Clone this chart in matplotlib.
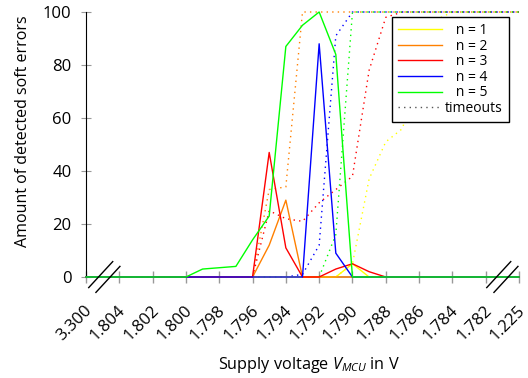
import matplotlib
matplotlib.use('Agg')
import matplotlib.pyplot as plt
from matplotlib.lines import Line2D
import matplotlib.transforms as mtransforms

plt.rcParams['font.family'] = ['Open Sans', 'DejaVu Sans']
plt.rcParams['mathtext.fontset'] = 'custom'
plt.rcParams['mathtext.it'] = 'Open Sans:italic'
plt.rcParams['mathtext.rm'] = 'Open Sans'

# ---------------- data ----------------
voltages = [3.300, 1.804, 1.803, 1.802, 1.801, 1.800, 1.799, 1.798, 1.797,
            1.796, 1.795, 1.794, 1.793, 1.792, 1.791, 1.790, 1.789, 1.788,
            1.787, 1.786, 1.785, 1.784, 1.783, 1.782, 1.225]

tick_voltages = [3.300, 1.804, 1.802, 1.800, 1.798, 1.796, 1.794, 1.792,
                 1.790, 1.788, 1.786, 1.784, 1.782, 1.225]
tick_labels = ["3.300", "1.804", "1.802", "1.800", "1.798", "1.796", "1.794",
               "1.792", "1.790", "1.788", "1.786", "1.784", "1.782", "1.225"]

#            3.3 804 803 802 801 800 799 798 797 796 795 794 793 792 791 790 789 788 787 786 785 784 783 782 1.225
errors_n1 = [0, 0, 0, 0, 0, 0, 0, 0, 0, 0, 0, 0, 0, 0, 0, 5, 0, 0, 0, 0, 0, 0, 0, 0, 0]
errors_n2 = [0, 0, 0, 0, 0, 0, 0, 0, 0, 0, 12, 29, 0, 0, 0, 0, 0, 0, 0, 0, 0, 0, 0, 0, 0]
errors_n3 = [0, 0, 0, 0, 0, 0, 0, 0, 0, 0, 47, 11, 0, 0, 3, 5, 2, 0, 0, 0, 0, 0, 0, 0, 0]
errors_n4 = [0, 0, 0, 0, 0, 0, 0, 0, 0, 0, 0, 0, 0, 88, 9, 0, 0, 0, 0, 0, 0, 0, 0, 0, 0]
errors_n5 = [0, 0, 0, 0, 0, 0, 3, 3.5, 4, 14, 23, 87, 95, 100, 84, 0, 0, 0, 0, 0, 0, 0, 0, 0, 0]

timeouts_n1 = [0, 0, 0, 0, 0, 0, 0, 0, 0, 0, 0, 0, 0, 0, 0, 5, 37, 51, 56, 78, 97, 100, 100, 100, 100]
timeouts_n2 = [0, 0, 0, 0, 0, 0, 0, 0, 0, 0, 33, 34, 100, 100, 100, 100, 100, 100, 100, 100, 100, 100, 100, 100, 100]
timeouts_n3 = [0, 0, 0, 0, 0, 0, 0, 0, 0, 0, 25, 22, 21, 28, 33, 38, 78, 98, 100, 100, 100, 100, 100, 100, 100]
timeouts_n4 = [0, 0, 0, 0, 0, 0, 0, 0, 0, 0, 0, 0, 1, 12, 91, 100, 100, 100, 100, 100, 100, 100, 100, 100, 100]
timeouts_n5 = [0, 0, 0, 0, 0, 0, 0, 0, 0, 0, 0, 0, 0, 0, 16, 100, 100, 100, 100, 100, 100, 100, 100, 100, 100]

series_labels = ["n = 1", "n = 2", "n = 3", "n = 4", "n = 5"]
series_colors = ["#ffff00", "#ff8000", "#ff0000", "#0000ff", "#00ff00"]


# broken axis: 3.300 | 1.804 ... 1.782 | 1.225
def axis_pos(v):
    if v > 2.0:
        return 0.0
    if v < 1.5:
        return 13.0
    return 1.0 + (1.804 - v) / 0.002


x = [axis_pos(v) for v in voltages]
errors = [errors_n1, errors_n2, errors_n3, errors_n4, errors_n5]
timeouts = [timeouts_n1, timeouts_n2, timeouts_n3, timeouts_n4, timeouts_n5]

# ---------------- figure ----------------
fig = plt.figure(figsize=(5.28, 3.78), dpi=100)
ax = fig.add_axes([86 / 528, 101 / 378, 433 / 528, 265 / 378])

dot_style = (0, (1, 3))
for t, c in zip(timeouts, series_colors):
    ax.plot(x, t, color=c, lw=1.0, linestyle=dot_style, clip_on=False, zorder=3)
handles = []
for e, c, lab in zip(errors, series_colors, series_labels):
    h, = ax.plot(x, e, color=c, lw=1.0, clip_on=False, zorder=4, label=lab)
    handles.append(h)

ax.set_xlim(0, 13)
ax.set_ylim(0, 100)

ax.spines['top'].set_visible(False)
ax.spines['right'].set_visible(False)
ax.spines['left'].set_color('black')
ax.spines['left'].set_linewidth(0.8)
ax.spines['bottom'].set_color('#999999')
ax.spines['bottom'].set_linewidth(1.2)

ax.set_xticks([axis_pos(v) for v in tick_voltages])
ax.set_xticklabels(tick_labels, rotation=45, ha='right', va='top',
                   rotation_mode='anchor', fontsize=12)
ax.set_yticks([0, 20, 40, 60, 80, 100])
ax.set_yticklabels(["0", "20", "40", "60", "80", "100"], fontsize=12)
ax.tick_params(axis='x', direction='inout', length=8, width=1.0, color='#999999', pad=14.5)
ax.tick_params(axis='y', direction='inout', length=7, width=0.8, color='#999999', pad=7)

offset = mtransforms.ScaledTranslation(-2 / 100, 0, fig.dpi_scale_trans)
for lbl in ax.get_xticklabels():
    lbl.set_transform(lbl.get_transform() + offset)

ax.set_xlabel("Supply voltage $V_{MCU}$ in V", fontsize=11.7)
ax.xaxis.set_label_coords(0.514, -0.296)
ax.set_ylabel("Amount of detected soft errors", fontsize=11.5)
ax.yaxis.set_label_coords(-0.127, 0.549)

# axis break marks
trans = mtransforms.blended_transform_factory(ax.transData, ax.transAxes)
for bx in (0.55, 12.5):
    for dxp, dyp in ((-3.6, 2.4), (3.6, -2.4)):
        off = mtransforms.ScaledTranslation(dxp / 100, dyp / 100, fig.dpi_scale_trans)
        off2 = mtransforms.ScaledTranslation(-12 / 100, -13 / 100, fig.dpi_scale_trans)
        off3 = mtransforms.ScaledTranslation(12 / 100, 13 / 100, fig.dpi_scale_trans)
        p1 = (trans + off + off2).transform((bx, 0))
        p2 = (trans + off + off3).transform((bx, 0))
        fig.add_artist(Line2D([p1[0], p2[0]], [p1[1], p2[1]], transform=None,
                              color='black', lw=1.0, zorder=10))

timeout_handle = Line2D([], [], color='#555555', lw=1.0, linestyle=dot_style)
labels = ["   n = 1", "   n = 2", "   n = 3", "   n = 4", "   n = 5", "timeouts"]
leg = ax.legend(handles + [timeout_handle], labels, loc='upper right',
                bbox_to_anchor=(1 - 10 / 433, 1 - 5 / 265), fontsize=10,
                frameon=True, fancybox=False, edgecolor='black', framealpha=1,
                handlelength=3.2, handletextpad=0.2, labelspacing=0.04,
                borderpad=0.45, borderaxespad=0)
leg.get_frame().set_linewidth(1.0)
leg.set_zorder(20)

fig.savefig("out.png", dpi=100)
